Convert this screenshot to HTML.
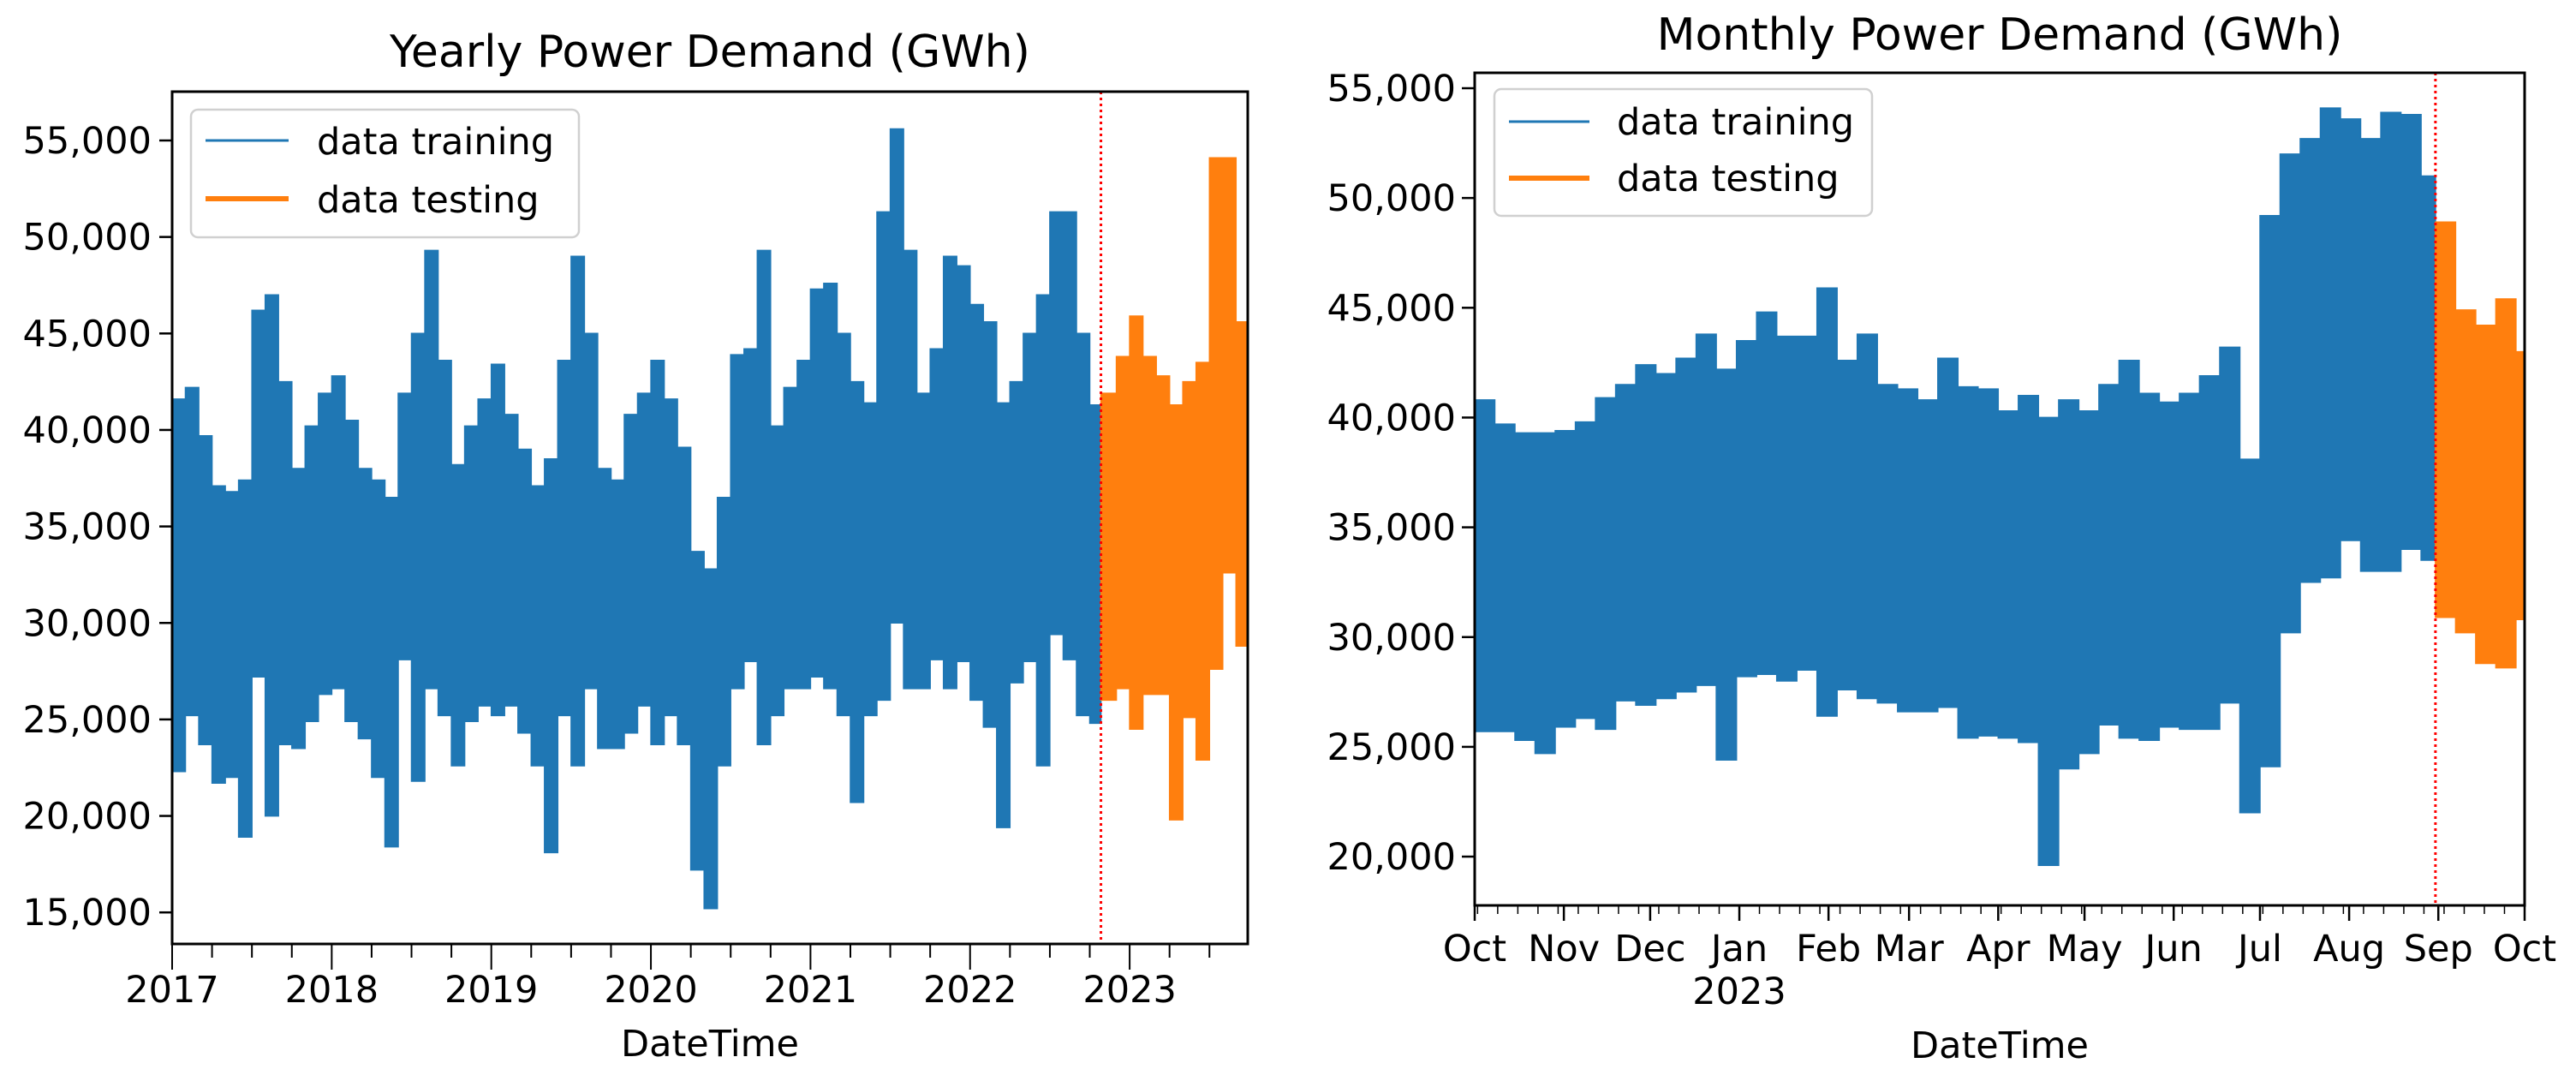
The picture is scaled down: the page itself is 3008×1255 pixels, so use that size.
<!DOCTYPE html>
<html><head><meta charset="utf-8">
<style>
html,body{margin:0;padding:0;background:#fff;}
svg{display:block;font-family:"DejaVu Sans","Liberation Sans",sans-serif;}
</style></head>
<body>
<svg id="chart" width="3008" height="1255" viewBox="0 0 3008 1255" xmlns="http://www.w3.org/2000/svg">
<rect x="0" y="0" width="3008" height="1255" fill="#fff"/>
<g id="left"></g>
<g id="right"></g>
</svg>
<script>
// ---------- Yearly chart data (thousand GWh, monthly envelope) ----------
const yearlyStart = 2017;           // first month = Jan 2017
const yearlySplit = 2022.82;        // train/test split (decimal year)
const yearlyEnd = 2023.74;
const yearlyTrainUpper = [41.6,42.2,39.7,37.1,36.8,37.4,46.2,47,42.5,38,40.2,41.9,
 42.8,40.5,38,37.4,36.5,41.9,45,49.3,43.6,38.2,40.2,41.6,
 43.4,40.8,39,37.1,38.5,43.6,49,45,38,37.4,40.8,41.9,
 43.6,41.6,39.1,33.7,32.8,36.5,43.9,44.2,49.3,40.2,42.2,43.6,
 47.3,47.6,45,42.5,41.4,51.3,55.6,49.3,41.9,44.2,49,48.5,
 46.5,45.6,41.4,42.5,45,47,51.3,51.3,45,41.3];
const yearlyTrainLower = [22.3,25.2,23.7,21.7,22,18.9,27.2,20,23.7,23.5,24.9,26.3,
 26.6,24.9,24,22,18.4,28.1,21.8,26.6,25.2,22.6,24.9,25.7,
 25.2,25.7,24.3,22.6,18.1,25.2,22.6,26.6,23.5,23.5,24.3,25.7,
 23.7,25.2,23.7,17.2,15.2,22.6,26.6,28,23.7,25.2,26.6,26.6,
 27.2,26.6,25.2,20.7,25.2,26,30,26.6,26.6,28.1,26.6,28,
 26,24.6,19.4,26.9,28,22.6,29.4,28.1,25.2,24.8];
const yearlyTestStartMonth = 2022 + 10/12; // Nov 2022
const yearlyTestUpper = [41.9,43.8,45.9,43.8,42.8,41.3,42.5,43.5,54.1,54.1,45.6];
const yearlyTestLower = [26,26.6,24.5,26.3,26.3,19.8,25.1,22.9,27.6,32.6,28.8];
const yearlyYTicks = [15,20,25,30,35,40,45,50,55];
const yearlyXTicks = [2017,2018,2019,2020,2021,2022,2023];

// ---------- Monthly chart data (thousand GWh, weekly envelope from 1 Oct 2022) ----------
const monthlySplitDay = 334;
const monthlyEndDay = 365;
const monthlyTrainUpper = [40.8,39.7,39.3,39.3,39.4,39.8,40.9,41.5,42.4,42,42.7,43.8,42.2,43.5,44.8,43.7,43.7,45.9,42.6,43.8,41.5,41.3,40.8,42.7,41.4,41.3,
 40.3,41,40,40.8,40.3,41.5,42.6,41.1,40.7,41.1,41.9,43.2,38.1,49.2,52,52.7,54.1,53.6,52.7,53.9,53.8,51];
const monthlyTrainLower = [25.7,25.7,25.3,24.7,25.9,26.3,25.8,27.1,26.9,27.2,27.5,27.8,24.4,28.2,28.3,28,28.5,26.4,27.6,27.2,27,26.6,26.6,26.8,25.4,25.5,
 25.4,25.2,19.6,24,24.7,26,25.4,25.3,25.9,25.8,25.8,27,22,24.1,30.2,32.5,32.7,34.4,33,33,34,33.5];
const monthlyTestUpper = [48.9,44.9,44.2,45.4,43];
const monthlyTestLower = [30.9,30.2,28.8,28.6,30.8];
const monthlyYTicks = [20,25,30,35,40,45,50,55];
const monthlyMonthLabels = ["Oct","Nov","Dec","Jan","Feb","Mar","Apr","May","Jun","Jul","Aug","Sep","Oct"];
const monthlyMonthDays = [0,31,61,92,123,151,182,212,243,273,304,335,365];

const NS = "http://www.w3.org/2000/svg";
const BLUE = "#1f77b4", ORANGE = "#ff7f0e";
function mk(parent, tag, attrs, text){
  const e = document.createElementNS(NS, tag);
  for (const k in attrs) e.setAttribute(k, attrs[k]);
  if (text !== undefined) e.textContent = text;
  parent.appendChild(e);
  return e;
}
function fmt(v){ return (v*1000).toLocaleString("en-US"); }

function envelopePath(starts, ends, up, lo, xf, yf){
  let top = [], bot = [];
  for (let i=0;i<up.length;i++){
    const a = xf(starts[i]), b = xf(ends[i]);
    top.push([a,yf(up[i])],[b,yf(up[i])]);
    bot.push([a,yf(lo[i])],[b,yf(lo[i])]);
  }
  const pts = top.concat(bot.reverse());
  return "M"+pts.map(p=>p[0].toFixed(1)+","+p[1].toFixed(1)).join("L")+"Z";
}

// ================= LEFT (Yearly) =================
(function(){
  const g = document.getElementById("left");
  const L=201, R=1457, T=107, B=1102;
  const x0=2017, x1=2023.74;
  const xf = t => L + (t - x0)/(x1 - x0)*(R-L);
  const yTop = 55 + (164-T)/22.53, yBot = 55 - (B-164)/22.53;
  const yf = v => T + (yTop - v)/(yTop - yBot)*(B-T);

  // training
  const ts=[], te=[];
  for (let i=0;i<yearlyTrainUpper.length;i++){
    ts.push(yearlyStart + i/12);
    te.push(Math.min(yearlyStart + (i+1)/12, yearlySplit));
  }
  const p1 = mk(g,"path",{d:envelopePath(ts,te,yearlyTrainUpper,yearlyTrainLower,xf,yf),fill:BLUE,stroke:BLUE,"stroke-width":1.5});
  
  
  const ss=[], se=[];
  for (let i=0;i<yearlyTestUpper.length;i++){
    ss.push(i===0 ? yearlySplit : yearlyTestStartMonth + i/12);
    se.push(Math.min(yearlyTestStartMonth + (i+1)/12, yearlyEnd));
  }
  const p2 = mk(g,"path",{d:envelopePath(ss,se,yearlyTestUpper,yearlyTestLower,xf,yf),fill:ORANGE,stroke:ORANGE,"stroke-width":1.5});
  
  
  const rl = mk(g,"line",{x1:xf(yearlySplit),x2:xf(yearlySplit),y1:T,y2:B,stroke:"#ff0000","stroke-width":3,"stroke-dasharray":"3,4"});
  
  

  // axes frame
  const fr = mk(g,"rect",{x:L,y:T,width:R-L,height:B-T,fill:"none",stroke:"#000","stroke-width":3});
  
  
  // y ticks
  yearlyYTicks.forEach(v=>{
    const y=yf(v);
    mk(g,"line",{x1:L-15,x2:L,y1:y,y2:y,stroke:"#000","stroke-width":2.5});
    const t = mk(g,"text",{x:L-24,y:y+15,"font-size":43,"text-anchor":"end",fill:"#000"},fmt(v));
    
    
  });
  // x minor ticks (quarters)
  for (let q=2017; q<=2023.74; q+=0.25){
    const x=xf(q);
    mk(g,"line",{x1:x,x2:x,y1:B,y2:B+(Math.abs(q-Math.round(q))<1e-6?30:16),stroke:"#000","stroke-width":2});
  }
  yearlyXTicks.forEach(v=>{
    const t = mk(g,"text",{x:xf(v),y:1170,"font-size":43,"text-anchor":"middle",fill:"#000"},String(v));
    
    
  });
  const xt = mk(g,"text",{x:(L+R)/2,y:1233,"font-size":43,"text-anchor":"middle",fill:"#000"},"DateTime");
  
  
  const tt = mk(g,"text",{x:(L+R)/2,y:78,"font-size":52,"text-anchor":"middle",fill:"#000"},"Yearly Power Demand (GWh)");
  
  
  // legend
  const lg = mk(g,"g",{});
  
  
  mk(lg,"rect",{x:223,y:128,width:453,height:149,rx:8,fill:"#fff","fill-opacity":0.8,stroke:"#d0d0d0","stroke-width":2.5});
  const e1 = mk(lg,"g",{});
  
  
  mk(e1,"line",{x1:240,x2:337,y1:164,y2:164,stroke:BLUE,"stroke-width":3});
  mk(e1,"text",{x:370,y:180,"font-size":43,fill:"#000"},"data training");
  const e2 = mk(lg,"g",{});
  
  
  mk(e2,"line",{x1:240,x2:337,y1:232,y2:232,stroke:ORANGE,"stroke-width":6});
  mk(e2,"text",{x:370,y:248,"font-size":43,fill:"#000"},"data testing");
})();

// ================= RIGHT (Monthly) =================
(function(){
  const g = document.getElementById("right");
  const L=1722, R=2948, T=85, B=1057;
  const xf = d => L + d/365*(R-L);
  const yf = v => 103 + (55 - v)*25.63;

  const ts=[], te=[];
  for (let i=0;i<monthlyTrainUpper.length;i++){
    ts.push(i*7);
    te.push(Math.min((i+1)*7, monthlySplitDay));
  }
  const p1 = mk(g,"path",{d:envelopePath(ts,te,monthlyTrainUpper,monthlyTrainLower,xf,yf),fill:BLUE,stroke:BLUE,"stroke-width":1.5});
  
  
  const ss=[], se=[];
  for (let i=0;i<monthlyTestUpper.length;i++){
    ss.push(monthlySplitDay + i*7);
    se.push(Math.min(monthlySplitDay + (i+1)*7, monthlyEndDay));
  }
  const p2 = mk(g,"path",{d:envelopePath(ss,se,monthlyTestUpper,monthlyTestLower,xf,yf),fill:ORANGE,stroke:ORANGE,"stroke-width":1.5});
  
  
  const rl = mk(g,"line",{x1:xf(monthlySplitDay),x2:xf(monthlySplitDay),y1:T,y2:B,stroke:"#ff0000","stroke-width":3,"stroke-dasharray":"3,4"});
  
  

  const fr = mk(g,"rect",{x:L,y:T,width:R-L,height:B-T,fill:"none",stroke:"#000","stroke-width":3});
  
  
  monthlyYTicks.forEach(v=>{
    const y=yf(v);
    mk(g,"line",{x1:L-15,x2:L,y1:y,y2:y,stroke:"#000","stroke-width":2.5});
    const t = mk(g,"text",{x:L-22,y:y+15,"font-size":43,"text-anchor":"end",fill:"#000"},fmt(v));
    
    
  });
  for (let d=1; d<365; d+=7){
    const x=xf(d);
    mk(g,"line",{x1:x,x2:x,y1:B,y2:B+10,stroke:"#000","stroke-width":1.5});
  }
  monthlyMonthDays.forEach((d,i)=>{
    const x=xf(d);
    mk(g,"line",{x1:x,x2:x,y1:B,y2:B+18,stroke:"#000","stroke-width":2.5});
    const t = mk(g,"text",{x:x,y:1122,"font-size":43,"text-anchor":"middle",fill:"#000"},monthlyMonthLabels[i]);
    
    
  });
  const yr = mk(g,"text",{x:xf(92),y:1172,"font-size":43,"text-anchor":"middle",fill:"#000"},"2023");
  
  
  const xt = mk(g,"text",{x:(L+R)/2,y:1235,"font-size":43,"text-anchor":"middle",fill:"#000"},"DateTime");
  
  
  const tt = mk(g,"text",{x:(L+R)/2,y:58,"font-size":52,"text-anchor":"middle",fill:"#000"},"Monthly Power Demand (GWh)");
  
  
  const lg = mk(g,"g",{});
  
  
  mk(lg,"rect",{x:1745,y:104,width:441,height:148,rx:8,fill:"#fff","fill-opacity":0.8,stroke:"#d0d0d0","stroke-width":2.5});
  const e1 = mk(lg,"g",{});
  
  
  mk(e1,"line",{x1:1762,x2:1856,y1:142,y2:142,stroke:BLUE,"stroke-width":3});
  mk(e1,"text",{x:1888,y:157,"font-size":43,fill:"#000"},"data training");
  const e2 = mk(lg,"g",{});
  
  
  mk(e2,"line",{x1:1762,x2:1856,y1:208,y2:208,stroke:ORANGE,"stroke-width":6});
  mk(e2,"text",{x:1888,y:223,"font-size":43,fill:"#000"},"data testing");
})();
</script>
</body></html>
